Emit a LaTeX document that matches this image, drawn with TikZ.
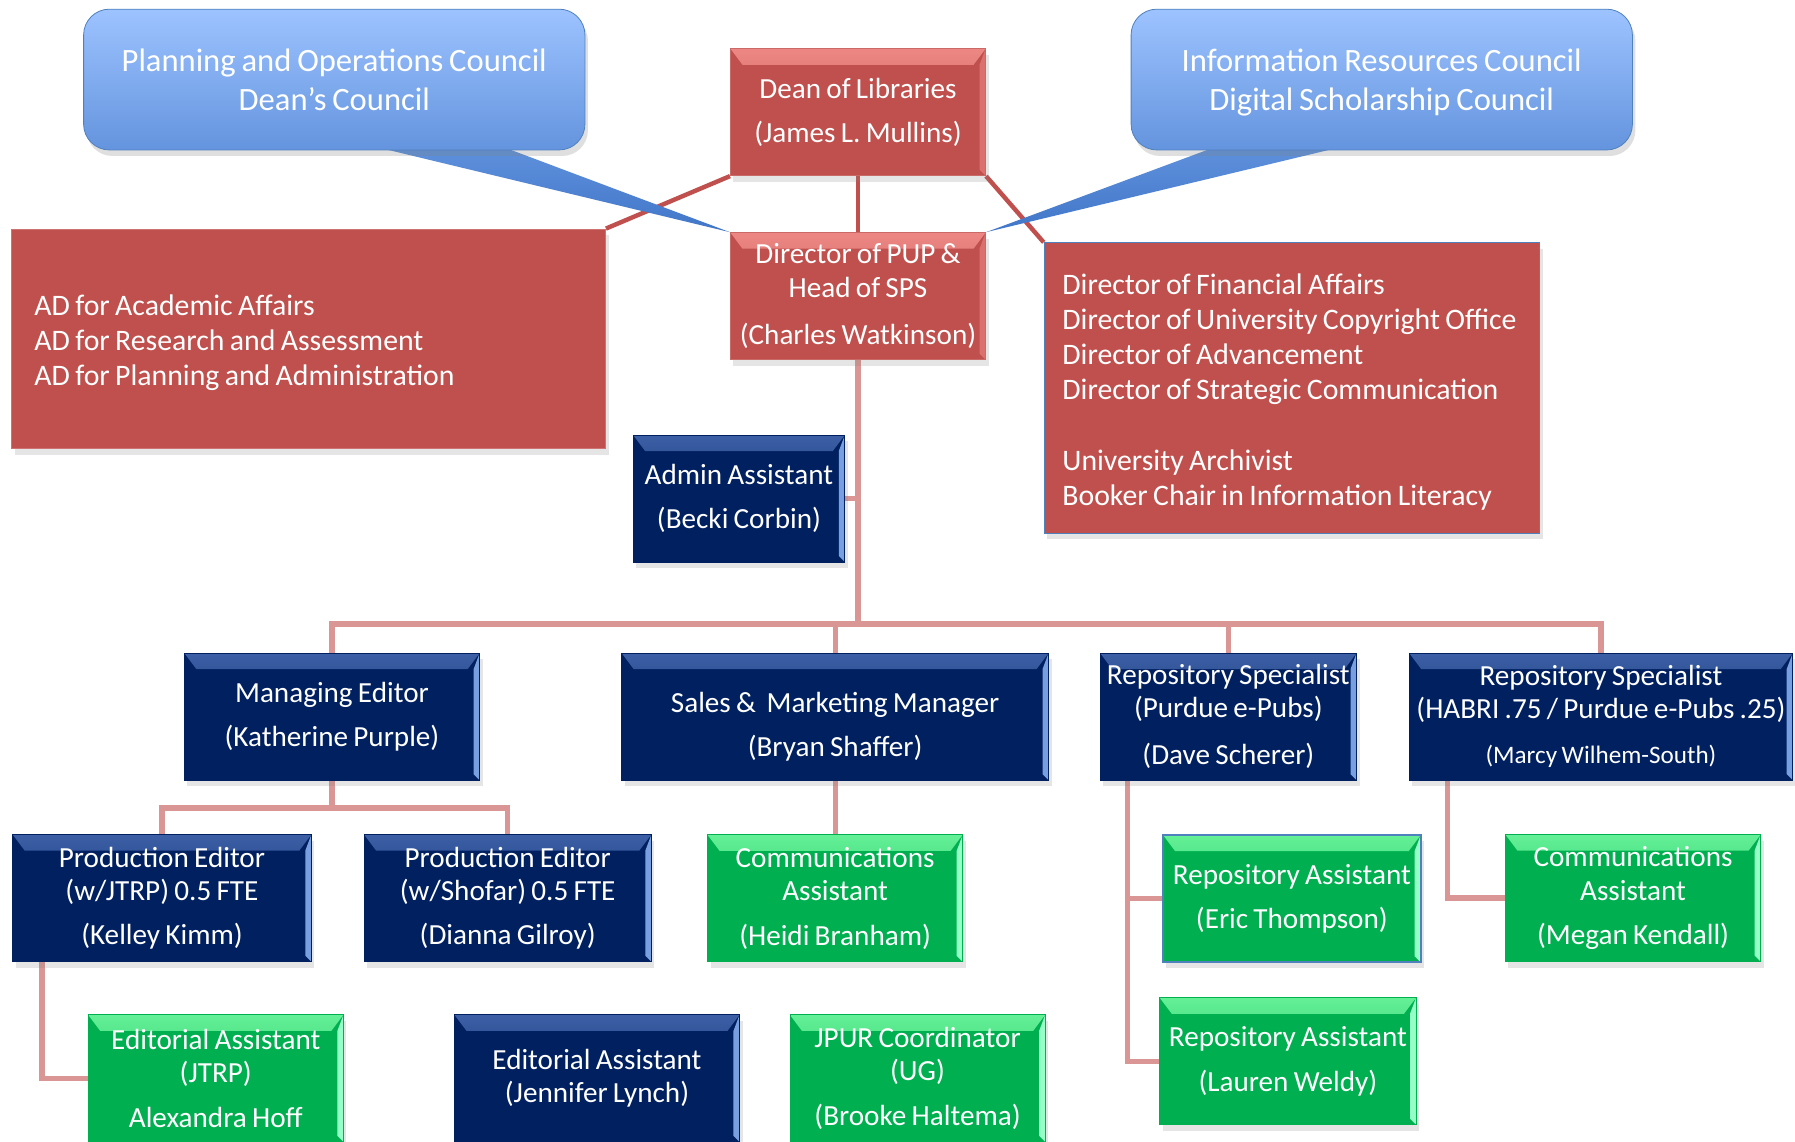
\documentclass[tikz,border=0pt]{standalone}
\usepackage{fontspec}
\setmainfont{Carlito}[WordSpace=0.8]
\usepackage{xcolor}
\usepackage{tikz}
\usetikzlibrary{positioning, backgrounds, shadows}
\definecolor{deanred}{RGB}{192,80,77}
\definecolor{redhi}{RGB}{236,135,132}
\definecolor{navy}{RGB}{0,32,96}
\definecolor{navyhi}{RGB}{60,95,165}
\definecolor{navyedge}{RGB}{120,160,225}
\definecolor{staffgreen}{RGB}{0,176,80}
\definecolor{greenhi}{RGB}{100,240,150}
\definecolor{greenedge}{RGB}{150,255,200}
\definecolor{councilhi}{RGB}{157,195,255}
\definecolor{councillo}{RGB}{100,148,222}
\definecolor{councilline}{RGB}{79,129,189}
\definecolor{tailhi}{RGB}{95,145,220}
\definecolor{tailblue}{RGB}{65,118,200}
\definecolor{linkpink}{RGB}{217,150,148}
\newcommand{\boxfont}{\fontsize{14.5}{16.5}\selectfont}
\newcommand{\panelfont}{\fontsize{14.8}{17.5}\selectfont}
\newcommand{\bevel}[3]{%
  \shade[top color=#1, bottom color=#2]
    (path picture bounding box.north west) -- (path picture bounding box.north east)
    -- ([shift={(-6pt,-8pt)}]path picture bounding box.north east)
    -- ([shift={(6pt,-8pt)}]path picture bounding box.north west) -- cycle;
  \fill[#3]
    (path picture bounding box.north east) -- (path picture bounding box.south east)
    -- ([shift={(-3pt,3pt)}]path picture bounding box.south east)
    -- ([shift={(-3pt,-8pt)}]path picture bounding box.north east) -- cycle;
}
\tikzstyle{staff} = [rectangle, minimum width=4.46cm, minimum height=2.22cm, inner sep=2pt, align=center, text=white, font=\boxfont, drop shadow={opacity=0.2, shadow xshift=1.5pt, shadow yshift=-3pt}]
\tikzstyle{redbox} = [staff, fill=deanred, draw=deanred!85!white, path picture={\bevel{redhi}{deanred}{redhi!60!deanred}}]
\tikzstyle{navybox} = [staff, fill=navy, draw=navy, path picture={\bevel{navyhi}{navy}{navyedge}}]
\tikzstyle{greenbox} = [staff, fill=staffgreen, draw=staffgreen, path picture={\bevel{greenhi}{staffgreen}{greenedge}}]
\tikzstyle{redpanel} = [rectangle, fill=deanred, draw=deanred!80!white, align=flush left, text=white, font=\panelfont, inner xsep=0.4cm, drop shadow={opacity=0.2, shadow xshift=1.5pt, shadow yshift=-3pt}]
\tikzstyle{council} = [rectangle, rounded corners=0.45cm, top color=councilhi, bottom color=councillo, draw=councilline, text=white, align=center, font=\fontsize{16.2}{19.3}\selectfont, drop shadow={opacity=0.25, shadow xshift=1.5pt, shadow yshift=-3pt}]
\tikzstyle{link} = [linkpink, line width=2.6pt]
\tikzstyle{redlink} = [deanred, line width=2.2pt]

\begin{document}
\begin{tikzpicture}[x=0.02cm, y=-0.02cm]
    \useasboundingbox (0,0) rectangle (1568,997);

    % councils
    \node (planning) [council, minimum width=8.76cm, minimum height=2.46cm] at (292,69.5) {Planning and Operations Council\\Dean’s Council};
    \node (inforesources) [council, minimum width=8.76cm, minimum height=2.46cm] at (1207,69.5) {Information Resources Council\\\raisebox{0pt}[\height][0pt]{Digital Scholarship Council}};

    % top of the chart
    \node (dean) [redbox] at (749.5,98) {Dean of Libraries\\[5.6pt](James L. Mullins)};
    \node (pup) [redbox, below=0.98cm of dean] {Director of PUP \&\\Head of SPS\\[7pt](Charles Watkinson)};
    \node (adbox) [redpanel, minimum width=10.38cm, minimum height=3.84cm, text width=9.58cm] at (269.5,296) {\rule{0pt}{14pt}AD for Academic Affairs\\AD for Research and Assessment\\AD for Planning and Administration};
    \node (dirbox) [redpanel, draw=councilline, inner xsep=0.32cm, minimum width=8.66cm, minimum height=5.08cm, text width=8.02cm] at (1128.5,339) {\rule{0pt}{14pt}Director of Financial Affairs\\Director of University Copyright Office\\Director of Advancement\\Director of Strategic Communication\\[17.5pt]University Archivist\\Booker Chair in Information Literacy};
    \node (admin) [navybox, minimum width=3.7cm] at (645.5,435.5) {Admin Assistant\\[5.6pt](Becki Corbin)};

    % managers
    \node (maned) [navybox, minimum width=5.16cm] at (290,626) {Managing Editor\\[5.6pt](Katherine Purple)};
    \node (sales) [navybox, minimum width=7.46cm] at (729.5,626) {\rule{0pt}{20pt}Sales \&~ Marketing Manager\\[5.6pt](Bryan Shaffer)};
    \node (repospec) [navybox, minimum width=4.48cm] at (1073,626) {Repository Specialist\\(Purdue e-Pubs)\\[7pt](Dave Scherer)};
    \node (habri) [navybox, minimum width=6.7cm] at (1398.5,626) {Repository Specialist\\(HABRI .75 / Purdue e-Pubs .25)\\[6pt]{\fontsize{12.5}{15}\selectfont(Marcy Wilhem-South)}};

    % staff
    \node (prodjtrp) [navybox, minimum width=5.22cm] at (141.5,784.5) {Production Editor\\(w/JTRP) 0.5 FTE\\[5.6pt](Kelley Kimm)};
    \node (prodshofar) [navybox, minimum width=5.02cm] at (443.5,784.5) {Production Editor\\(w/Shofar) 0.5 FTE\\[5.6pt](Dianna Gilroy)};
    \node (commsales) [greenbox, below=0.94cm of sales] {Communications\\Assistant\\[5.6pt](Heidi Branham)};
    \node (repasst1) [greenbox, minimum width=4.5cm, draw=councilline, line width=1pt] at (1128.5,785) {Repository Assistant\\[5.6pt](Eric Thompson)};
    \node (repasst2) [greenbox, minimum width=4.48cm] at (1125,927) {Repository Assistant\\[5.6pt](Lauren Weldy)};
    \node (commhabri) [greenbox] at (1426.5,784.5) {Communications\\Assistant\\[5.6pt](Megan Kendall)};
    \node (edjtrp) [greenbox] at (188.5,942) {Editorial Assistant\\(JTRP)\\[5.6pt]Alexandra Hoff};
    \node (edlynch) [navybox, minimum width=4.98cm] at (521.5,942) {Editorial Assistant\\(Jennifer Lynch)};
    \node (jpur) [greenbox] at (801.5,942) {JPUR Coordinator\\(UG)\\[5.6pt](Brooke Haltema)};

    \begin{scope}[on background layer]
        \fill[white] (0,0) rectangle (1568,997);
        \coordinate (bus) at (749.5,545);
        \draw [redlink] (dean.south west) -- (adbox.north east);
        \draw [redlink] (dean.south east) -- (dirbox.north west);
        \draw [redlink] (dean) -- (pup);
        \shade [top color=tailhi, bottom color=tailblue] ([shift={(0.68cm,2pt)}]planning.south) -- (pup.north west) -- ([shift={(2.92cm,2pt)}]planning.south) -- cycle;
        \shade [top color=tailhi, bottom color=tailblue] ([shift={(-2.88cm,2pt)}]inforesources.south) -- (pup.north east) -- ([shift={(-0.66cm,2pt)}]inforesources.south) -- cycle;
        \draw [link] (pup) -- (bus);
        \draw [link] (admin.east) -- (admin.east -| bus);
        \draw [link] (bus) -| (maned);
        \draw [link] (bus) -| (sales);
        \draw [link] (bus) -| (repospec);
        \draw [link] (bus) -| (habri);
        \draw [link] (maned.south) -- ++(0,24) -| (prodjtrp);
        \draw [link] (maned.south) -- ++(0,24) -| (prodshofar);
        \draw [link] (sales) -- (commsales);
        \draw [link] ([xshift=0.48cm]repospec.south west) |- (repasst1);
        \draw [link] ([xshift=0.48cm]repospec.south west) |- (repasst2);
        \draw [link] ([xshift=0.68cm]habri.south west) |- (commhabri);
        \draw [link] ([xshift=0.52cm]prodjtrp.south west) |- (edjtrp);
    \end{scope}
\end{tikzpicture}
\end{document}
